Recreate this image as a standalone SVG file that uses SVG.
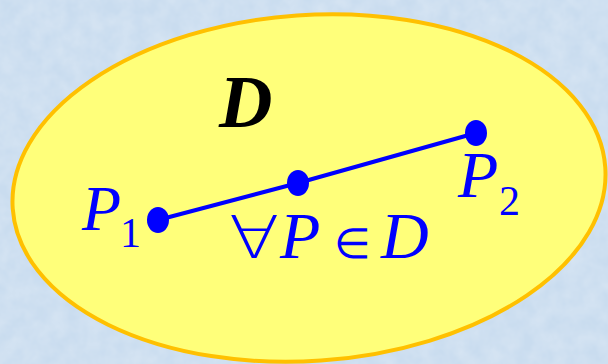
<svg xmlns="http://www.w3.org/2000/svg" width="608" height="364" viewBox="0 0 608 364">
  <style>
    .lbl { font-family: "Liberation Serif", "Times New Roman", serif; fill: #0000ff; }
    .it { font-style: italic; }
    .sym { font-family: "DejaVu Sans", sans-serif; font-weight: 200; }
    .dot { fill: #0000ff; }
    .seg { stroke: #0000ff; stroke-width: 4; fill: none; }
  </style>
  <defs>
    <filter id="tex" x="0" y="0" width="100%" height="100%">
      <feTurbulence type="fractalNoise" baseFrequency="0.06" numOctaves="3" seed="4"/>
      <feColorMatrix type="matrix" values="0 0 0 0 1  0 0 0 0 1  0 0 0 0 1  0 0 0 0.35 -0.08"/>
    </filter>
  </defs>
  <rect x="0" y="0" width="608" height="364" fill="#c9dcef"/>
  <rect x="0" y="0" width="608" height="364" filter="url(#tex)"/>

  <g id="region">
    <ellipse cx="309" cy="188" rx="297" ry="173" transform="rotate(-4 309 188)" fill="#ffff7a" stroke="#ffc000" stroke-width="4"/>
    <text x="219" y="127" font-family="Liberation Serif, 'Times New Roman', serif" font-size="74" font-weight="bold" font-style="italic" fill="#000">D</text>
  </g>

  <g id="connectors">
    <line class="seg" x1="158" y1="220" x2="298" y2="183"/>
    <line class="seg" x1="298" y1="183" x2="476" y2="133"/>
  </g>

  <g id="p1">
    <ellipse class="dot" cx="158" cy="220" rx="11" ry="13"/>
    <text class="lbl it" x="82" y="230" font-size="64">P</text>
    <text class="lbl" x="120" y="247" font-size="42">1</text>
  </g>

  <g id="p">
    <ellipse class="dot" cx="298" cy="183" rx="11" ry="13"/>
    <text class="lbl sym" transform="translate(229 258) scale(1.25 1)" x="0" y="0" font-size="59">∀</text>
    <text class="lbl" y="258" font-size="66"><tspan class="it" x="280">P</tspan><tspan class="sym" x="334" font-size="42">∈</tspan><tspan class="it" x="381">D</tspan></text>
  </g>

  <g id="p2">
    <ellipse class="dot" cx="476" cy="133" rx="11" ry="13"/>
    <text class="lbl it" x="458" y="197" font-size="66">P</text>
    <text class="lbl" x="499" y="215" font-size="42">2</text>
  </g>
</svg>
